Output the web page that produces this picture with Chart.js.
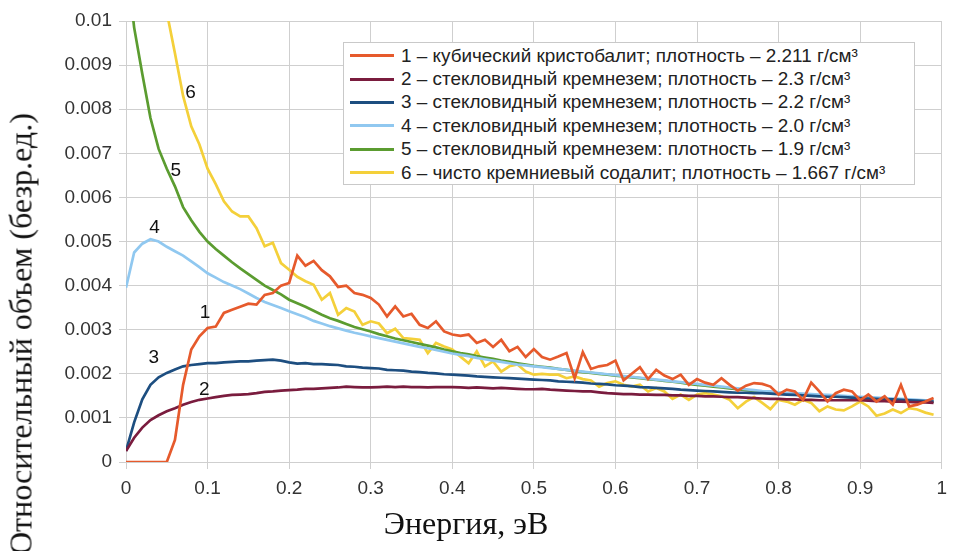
<!DOCTYPE html>
<html lang="ru">
<head>
<meta charset="UTF-8">
<title>Относительный объем пор</title>
<script src="https://cdn.jsdelivr.net/npm/chart.js"></script>
<style>
  body { margin: 0; background: #fff; }
  #wrap { position: relative; width: 955px; height: 551px; overflow: hidden; }
  #legend {
    position: absolute; left: 343px; top: 42px; width: 572px; height: 143px;
    box-sizing: border-box; border: 1px solid #c9c9c9; background: #fff;
    padding-top: 1px;
  }
  .row { display: flex; align-items: center; height: 23.4px; }
  .row span.ln { display: inline-block; width: 44px; height: 3px; margin: 0 7px 0 6px; }
  .row span.tx { font: 18.9px "Liberation Sans", Arial, sans-serif; color: #222; white-space: nowrap; }
  .title { position: absolute; font: 32px "Liberation Serif", "Times New Roman", serif; color: #111; white-space: nowrap; }
  #ytitle { left: 21px; top: 334px; transform: translate(-50%, -50%) rotate(-90deg); }
  #xtitle { left: 466px; top: 523px; transform: translate(-50%, -50%); }
</style>
</head>
<body>
<div id="wrap">
  <canvas id="myChart" width="955" height="551"></canvas>
  <div id="legend"></div>
  <div class="title" id="ytitle">Относительный объем (безр.ед.)</div>
  <div class="title" id="xtitle">Энергия, эВ</div>
</div>

<script>
// энергия, эВ
const energy = [
  0, 0.01, 0.02, 0.03, 0.04, 0.05, 0.06, 0.07, 0.08, 0.09,
  0.1, 0.11, 0.12, 0.13, 0.14, 0.15, 0.16, 0.17, 0.18, 0.19,
  0.2, 0.21, 0.22, 0.23, 0.24, 0.25, 0.26, 0.27, 0.28, 0.29,
  0.3, 0.31, 0.32, 0.33, 0.34, 0.35, 0.36, 0.37, 0.38, 0.39,
  0.4, 0.41, 0.42, 0.43, 0.44, 0.45, 0.46, 0.47, 0.48, 0.49,
  0.5, 0.51, 0.52, 0.53, 0.54, 0.55, 0.56, 0.57, 0.58, 0.59,
  0.6, 0.61, 0.62, 0.63, 0.64, 0.65, 0.66, 0.67, 0.68, 0.69,
  0.7, 0.71, 0.72, 0.73, 0.74, 0.75, 0.76, 0.77, 0.78, 0.79,
  0.8, 0.81, 0.82, 0.83, 0.84, 0.85, 0.86, 0.87, 0.88, 0.89,
  0.9, 0.91, 0.92, 0.93, 0.94, 0.95, 0.96, 0.97, 0.98, 0.99
]

// значения в тысячных долях (x 0.001)
const s1 = [
  0, 0, 0, 0, 0, 0, 0.5, 1.75, 2.55, 2.85,
  3.04, 3.07, 3.38, 3.45, 3.52, 3.59, 3.57, 3.79, 3.83, 4.0,
  4.06, 4.68, 4.45, 4.56, 4.35, 4.21, 3.97, 4.0, 3.83, 3.79,
  3.72, 3.57, 3.3, 3.53, 3.3, 3.36, 3.11, 3.04, 3.19, 2.96,
  2.89, 2.86, 2.89, 2.7, 2.77, 2.61, 2.77, 2.51, 2.61, 2.38,
  2.56, 2.38, 2.32, 2.39, 2.47, 1.9, 2.49, 2.11, 2.17, 2.2,
  2.3, 1.85, 2.0, 2.15, 1.88, 2.09, 1.96, 1.88, 1.98, 1.75,
  1.88, 1.8, 1.75, 1.9, 1.75, 1.62, 1.73, 1.79, 1.77, 1.71,
  1.53, 1.64, 1.6, 1.41, 1.8, 1.6, 1.37, 1.56, 1.64, 1.6,
  1.4, 1.53, 1.37, 1.49, 1.3, 1.75, 1.26, 1.3, 1.37, 1.45
]
const s2 = [
  0.25, 0.55, 0.78, 0.95, 1.06, 1.15, 1.22, 1.3, 1.36, 1.41,
  1.44, 1.47, 1.5, 1.52, 1.53, 1.54, 1.56, 1.59, 1.6, 1.62,
  1.63, 1.64, 1.66, 1.66, 1.67, 1.68, 1.69, 1.71, 1.7, 1.69,
  1.69, 1.7, 1.71, 1.7, 1.71, 1.7, 1.7, 1.69, 1.7, 1.7,
  1.7, 1.69, 1.68, 1.69, 1.68, 1.67, 1.68, 1.67, 1.66, 1.65,
  1.65, 1.66, 1.64, 1.63, 1.62, 1.61, 1.6, 1.6, 1.58, 1.56,
  1.55, 1.54, 1.54, 1.53, 1.53, 1.52, 1.52, 1.51, 1.51, 1.5,
  1.5, 1.49, 1.49, 1.48, 1.47, 1.47, 1.46, 1.45, 1.44, 1.43,
  1.43, 1.42, 1.42, 1.41, 1.41, 1.4, 1.4, 1.4, 1.4, 1.4,
  1.4, 1.39, 1.38, 1.38, 1.37, 1.37, 1.36, 1.35, 1.35, 1.34
]
const s3 = [
  0.25, 0.9, 1.42, 1.75, 1.92, 2.02, 2.1, 2.17, 2.2, 2.22,
  2.24, 2.24, 2.26, 2.27, 2.28, 2.28, 2.3, 2.31, 2.32, 2.3,
  2.26, 2.23, 2.24, 2.22, 2.22, 2.21, 2.2, 2.17, 2.16, 2.14,
  2.13, 2.12, 2.09, 2.08, 2.07, 2.05, 2.04, 2.02, 2.01, 1.99,
  1.98, 1.97, 1.96, 1.94, 1.93, 1.92, 1.91, 1.9, 1.89, 1.88,
  1.87, 1.86, 1.85, 1.83, 1.82, 1.81, 1.8, 1.78, 1.77, 1.76,
  1.74, 1.73, 1.72, 1.7, 1.69, 1.68, 1.67, 1.66, 1.64, 1.63,
  1.62, 1.61, 1.6, 1.59, 1.58, 1.57, 1.57, 1.56, 1.56, 1.55,
  1.54, 1.53, 1.52, 1.51, 1.5, 1.49, 1.48, 1.48, 1.47, 1.46,
  1.45, 1.44, 1.43, 1.42, 1.42, 1.41, 1.4, 1.39, 1.38, 1.37
]
const s4 = [
  3.95, 4.75, 4.95, 5.05, 5.0, 4.88, 4.78, 4.68, 4.55, 4.42,
  4.28, 4.18, 4.08, 4.0, 3.92, 3.82, 3.72, 3.63, 3.56, 3.49,
  3.42, 3.35, 3.28, 3.2, 3.14, 3.08, 3.03, 2.98, 2.93, 2.89,
  2.85, 2.81, 2.77, 2.73, 2.69, 2.65, 2.61, 2.58, 2.54, 2.5,
  2.46, 2.43, 2.4, 2.36, 2.33, 2.3, 2.27, 2.24, 2.21, 2.19,
  2.17, 2.15, 2.13, 2.11, 2.09, 2.07, 2.05, 2.03, 2.01, 1.99,
  1.97, 1.95, 1.93, 1.91, 1.89, 1.87, 1.85, 1.83, 1.81, 1.79,
  1.77, 1.75, 1.73, 1.71, 1.69, 1.67, 1.65, 1.63, 1.61, 1.6,
  1.58, 1.57, 1.56, 1.55, 1.54, 1.53, 1.52, 1.51, 1.5, 1.49,
  1.48, 1.47, 1.46, 1.45, 1.44, 1.43, 1.42, 1.41, 1.4, 1.39
]
const s5 = [
  11.5, 9.85, 8.8, 7.8, 7.1, 6.65, 6.25, 5.78, 5.48, 5.22,
  5.0, 4.83, 4.68, 4.53, 4.39, 4.26, 4.13, 4.0, 3.9, 3.8,
  3.68, 3.6, 3.52, 3.43, 3.34, 3.26, 3.2, 3.13, 3.06, 3.01,
  2.96, 2.9, 2.85, 2.8, 2.76, 2.72, 2.68, 2.64, 2.6, 2.55,
  2.51, 2.47, 2.44, 2.4, 2.37, 2.34, 2.3, 2.27, 2.24, 2.21,
  2.18, 2.16, 2.14, 2.11, 2.09, 2.06, 2.04, 2.02, 2.0, 1.98,
  1.96, 1.94, 1.92, 1.9, 1.88, 1.86, 1.84, 1.82, 1.8, 1.77,
  1.75, 1.73, 1.71, 1.69, 1.67, 1.65, 1.63, 1.61, 1.59, 1.57,
  1.56, 1.55, 1.54, 1.53, 1.52, 1.51, 1.5, 1.49, 1.48, 1.47,
  1.46, 1.45, 1.44, 1.43, 1.42, 1.41, 1.4, 1.39, 1.38, 1.37
]
const s6 = [
  16.0, 14.6, 13.3, 12.1, 11.1, 10.2, 9.27, 8.3, 7.61, 7.2,
  6.65, 6.3, 5.91, 5.68, 5.57, 5.57, 5.3, 4.89, 4.97, 4.51,
  4.36, 4.2, 4.1, 4.02, 3.68, 3.83, 3.34, 3.49, 3.41, 3.11,
  3.19, 3.14, 2.92, 3.02, 2.81, 2.79, 2.77, 2.47, 2.7, 2.62,
  2.55, 2.39, 2.24, 2.51, 2.17, 2.28, 2.05, 2.17, 2.21, 2.05,
  1.98, 2.0, 1.98, 1.98, 1.9, 1.94, 1.88, 1.85, 1.71, 1.79,
  1.83, 1.75, 1.71, 1.75, 1.6, 1.68, 1.6, 1.43, 1.53, 1.41,
  1.53, 1.56, 1.53, 1.49, 1.41, 1.22, 1.37, 1.47, 1.34, 1.2,
  1.41, 1.37, 1.3, 1.41, 1.34, 1.15, 1.26, 1.19, 1.17, 1.26,
  1.37, 1.26, 1.05, 1.1, 1.19, 1.11, 1.22, 1.19, 1.12, 1.07
]

const seriesNames = [
  '1 – кубический кристобалит; плотность – 2.211 г/см³',
  '2 – стекловидный кремнезем; плотность – 2.3 г/см³',
  '3 – стекловидный кремнезем; плотность – 2.2 г/см³',
  '4 – стекловидный кремнезем; плотность – 2.0 г/см³',
  '5 – стекловидный кремнезем: плотность – 1.9 г/см³',
  '6 – чисто кремниевый содалит; плотность – 1.667 г/см³'
]
const seriesColors = ['#e65a2c', '#7a1c3e', '#1d4e80', '#90c8f0', '#5b9c30', '#f4d03a']
const allSeries = [s1, s2, s3, s4, s5, s6]

// номера кривых на графике
const markText = ['1', '2', '3', '4', '5', '6']
const markX = [0.097, 0.096, 0.034, 0.035, 0.061, 0.079]
const markY = [3.39, 1.64, 2.37, 5.32, 6.6, 8.37]

const datasets = allSeries.map((s, k) => ({
  label: seriesNames[k],
  data: energy.map((x, i) => ({ x: x, y: s[i] * 0.001 })),
  borderColor: seriesColors[k],
  backgroundColor: seriesColors[k],
  borderWidth: 2.7,
  pointRadius: 0,
  tension: 0,
  fill: false
}))

const curveNumbers = {
  id: 'curveNumbers',
  afterDatasetsDraw(chart) {
    const c = chart.ctx
    c.save()
    c.font = '19px "Liberation Sans", Arial, sans-serif'
    c.fillStyle = '#111'
    c.textAlign = 'center'
    c.textBaseline = 'middle'
    markText.forEach((t, i) => {
      c.fillText(t, chart.scales.x.getPixelForValue(markX[i]), chart.scales.y.getPixelForValue(markY[i] * 0.001))
    })
    c.restore()
  }
}

const tickFont = { family: '"Liberation Sans", Arial, sans-serif', size: 19 }

const grafico = new Chart(document.getElementById('myChart'), {
  type: 'line',
  data: { datasets: datasets },
  options: {
    responsive: false,
    animation: false,
    layout: { padding: { top: 21, right: 6, left: 0, bottom: 0 } },
    plugins: { legend: { display: false }, tooltip: { enabled: false } },
    scales: {
      x: {
        type: 'linear', min: 0, max: 1,
        ticks: {
          stepSize: 0.1, color: '#333', font: tickFont, padding: 8,
          maxRotation: 0, autoSkip: false,
          callback: v => String(+v.toFixed(1))
        },
        grid: { color: '#cfcfcf', tickLength: 7 },
        border: { color: '#cfcfcf' },
        afterFit: s => { s.height = 89 }
      },
      y: {
        min: 0, max: 0.01,
        ticks: {
          stepSize: 0.001, color: '#333', font: tickFont, padding: 7,
          callback: v => String(+v.toFixed(3))
        },
        grid: { color: '#cfcfcf', tickLength: 7 },
        border: { color: '#cfcfcf' },
        afterFit: s => { s.width = 126 }
      }
    }
  },
  plugins: [curveNumbers]
})

// легенда внутри графика
const legend = document.getElementById('legend')
seriesNames.forEach((name, k) => {
  const row = document.createElement('div')
  row.className = 'row'
  row.innerHTML = '<span class="ln" style="background:' + seriesColors[k] + '"></span><span class="tx"></span>'
  row.querySelector('.tx').textContent = name
  legend.appendChild(row)
})
</script>
</body>
</html>
